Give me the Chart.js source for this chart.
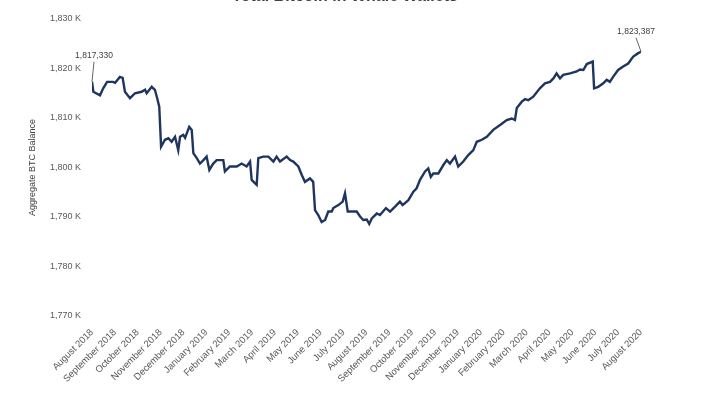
<!DOCTYPE html>
<html>
<head>
<meta charset="utf-8">
<script src="https://cdn.jsdelivr.net/npm/chart.js@4"></script>
<style>
  html, body { margin: 0; padding: 0; background: #fff; }
  #wrap { width: 709px; height: 398px; }
</style>
</head>
<body>
<div id="wrap"><canvas id="whaleChart" width="709" height="398"></canvas></div>
<script>
// month tick labels (one per month, Aug 2018 .. Aug 2020)
const months = ['August 2018', 'September 2018', 'October 2018', 'November 2018', 'December 2018',
  'January 2019', 'February 2019', 'March 2019', 'April 2019', 'May 2019', 'June 2019', 'July 2019',
  'August 2019', 'September 2019', 'October 2019', 'November 2019', 'December 2019',
  'January 2020', 'February 2020', 'March 2020', 'April 2020', 'May 2020', 'June 2020', 'July 2020',
  'August 2020'];

// time in months since August 2018
const t = [0, 0.06, 0.35, 0.49, 0.66, 0.92, 1.01, 1.22, 1.34, 1.44, 1.66, 1.88, 2.17, 2.32, 2.39,
  2.61, 2.75, 2.85, 2.94, 3.02, 3.19, 3.34, 3.48, 3.63, 3.77, 3.85, 3.99, 4.07, 4.25, 4.36, 4.43,
  4.58, 4.72, 4.87, 5.01, 5.13, 5.30, 5.45, 5.74, 5.81, 6.03, 6.33, 6.54, 6.76, 6.91, 6.98, 7.13,
  7.20, 7.27, 7.49, 7.71, 7.93, 8.07, 8.22, 8.51, 8.66, 8.80, 9.02, 9.17, 9.31, 9.53, 9.67, 9.75,
  9.89, 10.04, 10.19, 10.33, 10.48, 10.55, 10.77, 10.96, 11.06, 11.18, 11.35, 11.57, 11.72, 11.86,
  12.01, 12.12, 12.23, 12.45, 12.59, 12.85, 13.03, 13.25, 13.46, 13.58, 13.83, 14.05, 14.19, 14.34,
  14.56, 14.70, 14.81, 14.92, 15.14, 15.36, 15.51, 15.65, 15.87, 16.01, 16.23, 16.45, 16.67, 16.82,
  17.04, 17.26, 17.54, 17.84, 18.13, 18.35, 18.49, 18.57, 18.79, 18.93, 19.07, 19.29, 19.58, 19.80,
  20.02, 20.17, 20.31, 20.46, 20.60, 20.90, 21.19, 21.33, 21.48, 21.63, 21.89, 21.95, 22.13, 22.35,
  22.50, 22.64, 22.78, 23.00, 23.22, 23.44, 23.66, 23.88, 24];

// aggregate BTC balance, thousands of BTC
const balance = [1817.330, 1815.3, 1814.6, 1816.0, 1817.3, 1817.3, 1817.1, 1818.3, 1818.1, 1815.3,
  1814.0, 1815.0, 1815.3, 1815.7, 1815.0, 1816.3, 1815.7, 1814.0, 1812.3, 1804.2, 1805.6, 1805.9,
  1805.2, 1806.2, 1803.5, 1806.2, 1806.6, 1806.0, 1808.2, 1807.6, 1802.9, 1801.9, 1800.8, 1801.5,
  1802.2, 1799.5, 1800.8, 1801.5, 1801.5, 1799.2, 1800.2, 1800.2, 1800.8, 1800.2, 1801.2, 1797.5,
  1796.8, 1796.5, 1801.9, 1802.2, 1802.2, 1801.2, 1802.2, 1801.2, 1802.2, 1801.5, 1801.2, 1800.2,
  1798.5, 1797.1, 1797.8, 1797.1, 1791.4, 1790.4, 1789.0, 1789.4, 1791.1, 1791.1, 1791.8, 1792.4,
  1793.1, 1794.8, 1791.1, 1791.1, 1791.1, 1790.1, 1789.4, 1789.5, 1788.6, 1789.7, 1790.7, 1790.4,
  1791.8, 1791.1, 1792.1, 1793.1, 1792.4, 1793.4, 1795.1, 1795.8, 1797.5, 1799.2, 1799.8, 1798.1,
  1798.8, 1798.8, 1800.5, 1801.5, 1800.8, 1802.2, 1800.2, 1801.2, 1802.5, 1803.5, 1805.2, 1805.6,
  1806.2, 1807.6, 1808.6, 1809.6, 1809.9, 1809.6, 1812.0, 1813.3, 1813.8, 1813.6, 1814.3, 1816.0,
  1817.0, 1817.3, 1818.0, 1819.0, 1818.0, 1818.7, 1819.0, 1819.4, 1819.8, 1819.7, 1820.9, 1821.4,
  1816.0, 1816.3, 1817.0, 1817.7, 1817.3, 1818.3, 1819.7, 1820.4, 1821.0, 1822.4, 1823.1, 1823.387];

const yTicks = { min: 1770, max: 1830, step: 10 };
const FONT = '"Liberation Sans", Arial, sans-serif';

// title sits mostly above the top edge, like in the cropped original
const titlePlugin = {
  id: 'clippedTitle',
  afterDraw(chart) {
    const c = chart.ctx;
    c.save();
    c.font = 'bold 16px ' + FONT;
    c.fillStyle = '#404040';
    c.textAlign = 'center';
    c.textBaseline = 'alphabetic';
    c.fillText('Total Bitcoin in Whale Wallets', 345, 1);
    c.restore();
  }
};

// callouts for first and last value
const calloutPlugin = {
  id: 'callouts',
  afterDatasetsDraw(chart) {
    const pts = chart.getDatasetMeta(0).data;
    const c = chart.ctx;
    const fmt = v => Math.round(v * 1000).toLocaleString('en-US');
    const items = [
      { p: pts[0], v: balance[0], dx: 2, dy: -20 },
      { p: pts[pts.length - 1], v: balance[balance.length - 1], dx: -5, dy: -14 }
    ];
    c.save();
    c.font = '8.5px ' + FONT;
    c.fillStyle = '#404040';
    c.strokeStyle = '#404040';
    c.lineWidth = 0.8;
    c.textAlign = 'center';
    items.forEach(it => {
      c.beginPath();
      c.moveTo(it.p.x, it.p.y);
      c.lineTo(it.p.x + it.dx, it.p.y + it.dy);
      c.stroke();
      c.fillText(fmt(it.v), it.p.x + it.dx, it.p.y + it.dy - 4);
    });
    c.restore();
  }
};

const ctx = document.getElementById('whaleChart').getContext('2d');
const chart = new Chart(ctx, {
  type: 'line',
  data: {
    datasets: [{
      label: 'Aggregate BTC Balance',
      data: t.map((x, i) => ({ x: x, y: balance[i] })),
      borderColor: '#1f3560',
      borderWidth: 2.4,
      pointRadius: 0,
      tension: 0,
      fill: false
    }]
  },
  options: {
    responsive: false,
    animation: false,
    layout: { padding: { top: 19, right: 68, bottom: 0, left: 0 } },
    plugins: {
      legend: { display: false },
      tooltip: { enabled: false },
      title: { display: false }
    },
    scales: {
      x: {
        type: 'linear',
        min: 0,
        max: months.length - 1,
        grid: { display: false },
        border: { display: false },
        ticks: {
          stepSize: 1,
          autoSkip: false,
          maxRotation: 45,
          minRotation: 45,
          padding: 3,
          color: '#595959',
          font: { family: FONT, size: 9.5 },
          callback: v => months[v]
        },
        afterFit: s => { s.height = 82; }
      },
      y: {
        min: yTicks.min,
        max: yTicks.max,
        grid: { display: false },
        border: { display: false },
        ticks: {
          stepSize: yTicks.step,
          padding: 3,
          color: '#595959',
          font: { family: FONT, size: 9 },
          callback: v => v.toLocaleString('en-US') + ' K'
        },
        title: {
          display: true,
          text: 'Aggregate BTC Balance',
          color: '#404040',
          font: { family: FONT, size: 9 },
          padding: { top: 27, bottom: 0 }
        },
        afterFit: s => { s.width = 92; }
      }
    }
  },
  plugins: [titlePlugin, calloutPlugin]
});
</script>
</body>
</html>
